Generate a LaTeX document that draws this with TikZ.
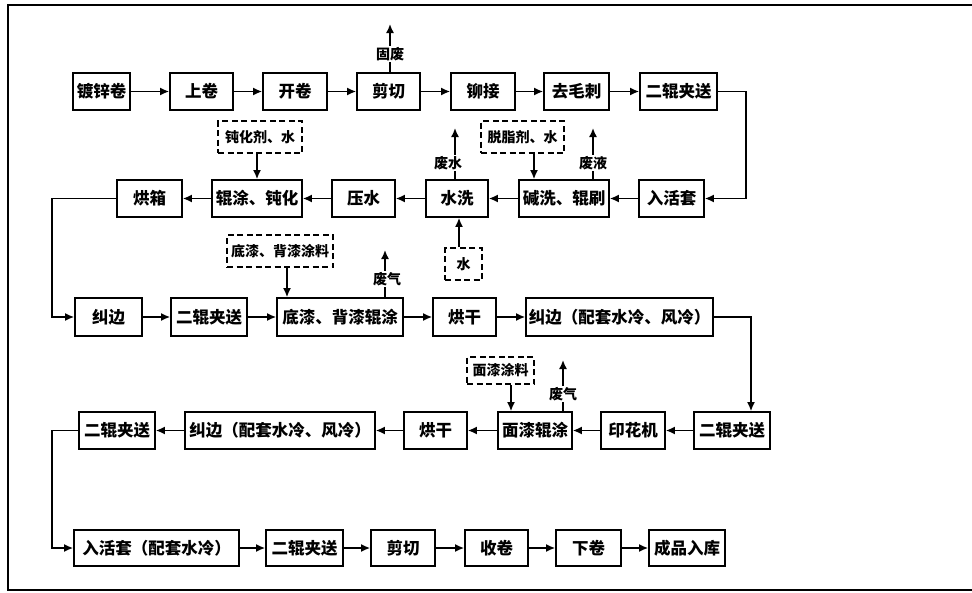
\documentclass[tikz,border=0pt]{standalone}
\usepackage{fontspec}
\setmainfont{Noto Sans CJK SC}
\usetikzlibrary{arrows.meta}
\newcommand\procbox[7][pbox]{\node[#1,minimum width={(#4-#3)*1pt},minimum height={(#6-#5)*1pt}] (#2) at ({(#3+#4)/2},{(#5+#6)/2}) {#7};}
\begin{document}
\begin{tikzpicture}[x=1pt,y=-1pt,
  pbox/.style={draw,line width=1.7pt,inner sep=0pt,font=\fontsize{16.5}{16.5}\selectfont\bfseries},
  dbox/.style={draw,line width=1.6pt,dash pattern=on 6pt off 3.5pt,inner sep=0pt,font=\fontsize{14}{14}\selectfont\bfseries},
  lab/.style={fill=white,inner sep=1pt,font=\fontsize{14}{14}\selectfont\bfseries},
  flow/.style={line width=1.6pt,-{Latex[length=9pt,width=8pt]}},
  frame/.style={line width=1.8pt}]
\useasboundingbox (0,0) rectangle (972,592);
% frame
\draw[frame] (972,5) -- (8,5) -- (8,590) -- (972,590);
% row 1
\procbox{a1}{73}{130}{73}{110}{镀锌卷}
\procbox{a2}{170}{233}{73}{110}{上卷}
\procbox{a3}{263}{327}{73}{110}{开卷}
\procbox{a4}{357}{420}{73}{110}{剪切}
\procbox{a5}{451}{515}{73}{110}{铆接}
\procbox{a6}{544}{609}{73}{110}{去毛刺}
\procbox{a7}{640}{717}{73}{110}{二辊夹送}
% row 2
\procbox{b1}{639}{704}{180}{217}{入活套}
\procbox{b2}{519}{609}{180}{217}{碱洗、辊刷}
\procbox{b3}{426}{488}{180}{217}{水洗}
\procbox{b4}{332}{395}{180}{217}{压水}
\procbox{b5}{212}{302}{180}{217}{辊涂、钝化}
\procbox{b6}{117}{182}{180}{217}{烘箱}
% row 3
\procbox{c1}{75}{142}{298}{336}{纠边}
\procbox{c2}{171}{247}{298}{336}{二辊夹送}
\procbox{c3}{277}{403}{298}{336}{底漆、背漆辊涂}
\procbox{c4}{433}{496}{298}{336}{烘干}
\procbox{c5}{526}{713}{298}{336}{纠边（配套水冷、风冷）}
% row 4
\procbox{d1}{694}{770}{412}{449}{二辊夹送}
\procbox{d2}{601}{665}{412}{449}{印花机}
\procbox{d3}{498}{572}{412}{449}{面漆辊涂}
\procbox{d4}{404}{467}{412}{449}{烘干}
\procbox{d5}{185}{375}{412}{449}{纠边（配套水冷、风冷）}
\procbox{d6}{79}{155}{412}{449}{二辊夹送}
% row 5
\procbox{e1}{74}{239}{530}{566}{入活套（配套水冷）}
\procbox{e2}{266}{343}{530}{566}{二辊夹送}
\procbox{e3}{371}{435}{530}{566}{剪切}
\procbox{e4}{465}{528}{530}{566}{收卷}
\procbox{e5}{556}{621}{530}{566}{下卷}
\procbox{e6}{649}{725}{530}{566}{成品入库}
% dashed inputs
\procbox[dbox]{f1}{218}{302}{121}{153}{钝化剂、水}
\procbox[dbox]{f2}{481}{564}{121}{153}{脱脂剂、水}
\procbox[dbox]{f3}{445}{482}{248}{280}{水}
\procbox[dbox]{f4}{227}{333}{235}{267}{底漆、背漆涂料}
\procbox[dbox]{f5}{467}{534}{357}{384}{面漆涂料}
% main flow
\foreach \s/\t in {a1/a2,a2/a3,a3/a4,a4/a5,a5/a6,a6/a7,
  b1/b2,b2/b3,b3/b4,b4/b5,b5/b6,
  c1/c2,c2/c3,c3/c4,c4/c5,
  d1/d2,d2/d3,d3/d4,d4/d5,d5/d6,
  e1/e2,e2/e3,e3/e4,e4/e5,e5/e6}
  \draw[flow] (\s) -- (\t);
\coordinate (k1) at (746,0);
\coordinate (k2) at (52,0);
\coordinate (k3) at (751,0);
\draw[flow] (a7.east) -- (a7.east -| k1) |- (b1.east);
\draw[flow] (b6.west) -- (b6.west -| k2) |- (c1.west);
\draw[flow] (c5.east) -| (d1.north -| k3);
\draw[flow] (d6.west) -- (d6.west -| k2) |- (e1.west);
% inputs
\draw[flow] (f1.south -| 257,0) -- (b5.north -| 257,0);
\draw[flow] (f2.south -| 534,0) -- (b2.north -| 534,0);
\draw[flow] (f3.north -| 459,0) -- (b3.south -| 459,0);
\draw[flow] (f4.south -| 287,0) -- (c3.north -| 287,0);
\draw[flow] (f5.south -| 511,0) -- (d3.north -| 511,0);
% emissions
\coordinate (o1) at (390,24);
\coordinate (o2) at (455,128);
\coordinate (o3) at (593,128);
\coordinate (o4) at (385,250);
\coordinate (o5) at (563,360);
\draw[flow] (a4.north -| o1) -- (o1);
\draw[flow] (b3.north -| o2) -- (o2);
\draw[flow] (b2.north -| o3) -- (o3);
\draw[flow] (c3.north -| o4) -- (o4);
\draw[flow] (d3.north -| o5) -- (o5);
\node[lab] (w1) at (390,54) {固废};
\node[lab] (w2) at (448,163) {废水};
\node[lab] (w3) at (593,163) {废液};
\node[lab] (w4) at (387,279) {废气};
\node[lab] (w5) at (563,394) {废气};
\end{tikzpicture}
\end{document}
